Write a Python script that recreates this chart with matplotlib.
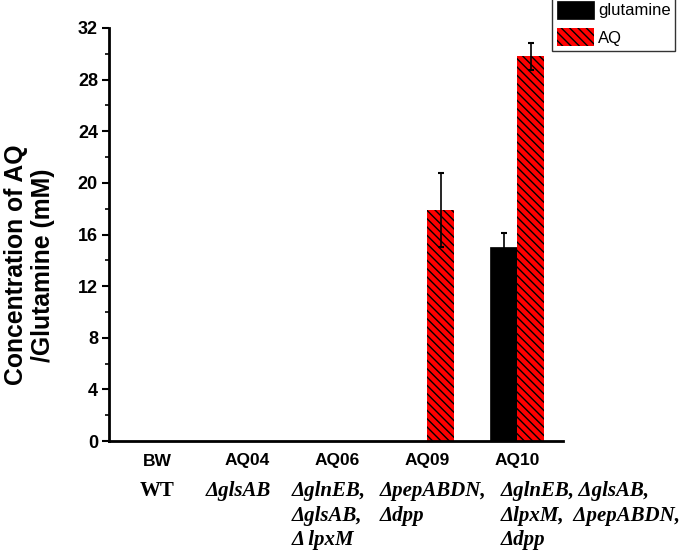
import matplotlib
matplotlib.use("Agg")
import matplotlib.pyplot as plt
import matplotlib.transforms as mtransforms
from matplotlib.patches import Patch
from matplotlib.ticker import MultipleLocator
import numpy as np

# ---- data ----
strains = ["BW", "AQ04", "AQ06", "AQ09", "AQ10"]
genotypes = [
    "WT",
    "ΔglsAB",
    "ΔglnEB,\nΔglsAB,\nΔ lpxM",
    "ΔpepABDN,\nΔdpp",
    "ΔglnEB, ΔglsAB,\nΔlpxM,  ΔpepABDN,\nΔdpp",
]
glutamine = [0, 0, 0, 0, 15.0]
glutamine_err = [0, 0, 0, 0, 1.1]
aq = [0, 0, 0, 17.9, 29.8]
aq_err = [0, 0, 0, 2.85, 1.05]
series_names = ["glutamine", "AQ"]

plt.rcParams["font.family"] = ["Liberation Sans", "DejaVu Sans"]
plt.rcParams["hatch.linewidth"] = 1.0

fig = plt.figure(figsize=(6.85, 5.53), dpi=100)
ax = fig.add_axes([109 / 685, 1 - 441 / 553, (563 - 109) / 685, (441 - 28) / 553])

x = np.arange(len(strains))
w = 0.3

ax.bar(x - w / 2, glutamine, w, color="black", edgecolor="black", linewidth=0.5, zorder=2)
ax.bar(x + w / 2, aq, w, color="#ff0000", edgecolor="black", linewidth=0,
       hatch="\\\\\\\\", zorder=2)

g = np.array(glutamine); ge = np.array(glutamine_err)
a = np.array(aq); ae = np.array(aq_err)
mg = ge > 0
ma = ae > 0
ax.errorbar((x - w / 2)[mg], g[mg], yerr=ge[mg], fmt="none", ecolor="black",
            elinewidth=1.2, capsize=2.5, capthick=1.5, zorder=3)
ax.errorbar((x + w / 2)[ma], a[ma], yerr=ae[ma], fmt="none", ecolor="black",
            elinewidth=1.2, capsize=2.5, capthick=1.5, zorder=3)

ax.set_xlim(-0.533, 4.51)
ax.set_ylim(0, 32)
ax.yaxis.set_major_locator(MultipleLocator(4))
ax.yaxis.set_minor_locator(MultipleLocator(2))
ax.set_xticks(x)
ax.set_xticklabels(strains, fontsize=12.5, fontweight="bold")
ax.tick_params(axis="x", length=0, pad=9)
ax.tick_params(axis="y", which="major", length=5, width=1.5, labelsize=13, pad=3)
ax.tick_params(axis="y", which="minor", length=3, width=1.2)
for lab in ax.get_yticklabels():
    lab.set_fontweight("bold")

for s in ["top", "right"]:
    ax.spines[s].set_visible(False)
for s in ["left", "bottom"]:
    ax.spines[s].set_linewidth(2)

ax.set_ylabel("Concentration of AQ\n/Glutamine (mM)", fontsize=17.8, fontweight="bold",
              linespacing=1.15)
ax.yaxis.set_label_coords(-0.12, 0.426)

# genotype annotations
trans = mtransforms.blended_transform_factory(ax.transData, ax.transAxes)
offsets_pt = [0, -29.5, -33, -34, -11.5]
aligns = ["center", "left", "left", "left", "left"]
for i, (gt, off, al) in enumerate(zip(genotypes, offsets_pt, aligns)):
    style = "normal" if gt == "WT" else "italic"
    ax.annotate(gt, xy=(x[i], -0.097), xycoords=trans, xytext=(off, 0),
                textcoords="offset points", ha=al, va="top", multialignment="left",
                fontsize=15, fontweight="bold", fontstyle=style,
                family=["Liberation Serif", "DejaVu Serif"], linespacing=1.3,
                annotation_clip=False)

handles = [
    Patch(facecolor="black", edgecolor="black", linewidth=0.5),
    Patch(facecolor="#ff0000", edgecolor="black", linewidth=0, hatch="\\\\\\\\"),
]
leg = fig.legend(handles, series_names, loc="upper left",
                 bbox_to_anchor=(552 / 685, 1.008), fontsize=12,
                 frameon=True, fancybox=False, edgecolor="black",
                 handlelength=2.2, handleheight=1.35, handletextpad=0.25,
                 borderpad=0.3, labelspacing=0.5, borderaxespad=0)
leg.get_frame().set_linewidth(1.0)

fig.savefig("out.png", dpi=100)
